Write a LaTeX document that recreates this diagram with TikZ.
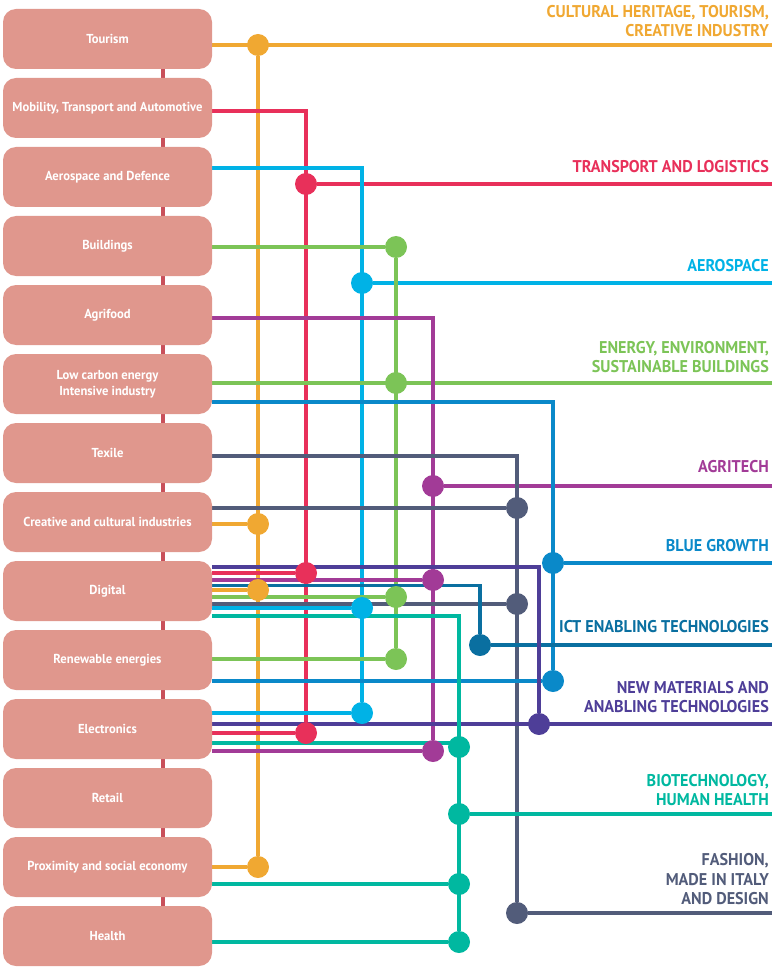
\documentclass[tikz,border=0pt]{standalone}
\usepackage{fontspec}
\setmainfont{PT Sans}
\newfontfamily\lblfont{PT Sans}[FakeStretch=0.95]
\newfontfamily\boxfont{PT Sans}[FakeStretch=0.97]
\definecolor{orng}{HTML}{F0A832}
\definecolor{redc}{HTML}{E8305A}
\definecolor{cyanc}{HTML}{00B2E6}
\definecolor{greenc}{HTML}{7CC457}
\definecolor{purp}{HTML}{A23B97}
\definecolor{bluec}{HTML}{0A89C9}
\definecolor{ictc}{HTML}{0A6FA0}
\definecolor{indc}{HTML}{4E3E98}
\definecolor{tealc}{HTML}{00B8A0}
\definecolor{slatec}{HTML}{525C7A}
\definecolor{boxc}{HTML}{E0978D}
\definecolor{barc}{HTML}{C9505A}
\pgfdeclarelayer{lines}
\pgfsetlayers{lines,main}
\tikzset{
  box/.style={fill=boxc, rounded corners=13pt, minimum width=209pt, minimum height=60pt,
    text=white, font=\boxfont\bfseries\fontsize{13}{16}\selectfont, align=center, inner sep=0pt},
  ln/.style={line width=3.5pt},
  dot/.style={circle, fill, inner sep=0pt, minimum size=22pt},
  lbl/.style={anchor=south east, inner sep=0pt, align=right,
    font=\lblfont\bfseries\fontsize{17}{19.5}\selectfont},
}
\begin{document}
\begin{tikzpicture}[x=1pt,y=-1pt]
\useasboundingbox (0,0) rectangle (772,968);
% boxes
\node[box] (b1) at (107.5,39) {Tourism};
\node[box] (b2) at (107.5,108) {Mobility, Transport and Automotive};
\node[box] (b3) at (107.5,177) {Aerospace and Defence};
\node[box] (b4) at (107.5,246) {Buildings};
\node[box] (b5) at (107.5,315) {Agrifood};
\node[box] (b6) at (107.5,384) {Low carbon energy\\Intensive industry};
\node[box] (b7) at (107.5,453) {Texile};
\node[box] (b8) at (107.5,522) {Creative and cultural industries};
\node[box] (b9) at (107.5,591) {Digital};
\node[box] (b10) at (107.5,660) {Renewable energies};
\node[box] (b11) at (107.5,729) {Electronics};
\node[box] (b12) at (107.5,798) {Retail};
\node[box] (b13) at (107.5,867) {Proximity and social economy};
\node[box] (b14) at (107.5,936) {Health};
% dots
\node[dot, orng] (o1) at (258,45) {};
\node[dot, orng] (o2) at (258,524) {};
\node[dot, orng] (o3) at (258,590) {};
\node[dot, orng] (o4) at (258,867) {};
\node[dot, redc] (r1) at (306,184) {};
\node[dot, redc] (r2) at (306,573) {};
\node[dot, redc] (r3) at (306,733) {};
\node[dot, cyanc] (c1) at (362,283) {};
\node[dot, cyanc] (c2) at (362,608) {};
\node[dot, cyanc] (c3) at (362,713) {};
\node[dot, greenc] (g1) at (396,247) {};
\node[dot, greenc] (g2) at (396,383) {};
\node[dot, greenc] (g3) at (396,597) {};
\node[dot, greenc] (g4) at (396,659) {};
\node[dot, purp] (p1) at (433,486) {};
\node[dot, purp] (p2) at (433,580) {};
\node[dot, purp] (p3) at (433,751) {};
\node[dot, slatec] (s1) at (517,508) {};
\node[dot, slatec] (s2) at (517,604) {};
\node[dot, slatec] (s3) at (517,913) {};
\node[dot, bluec] (u1) at (553,563) {};
\node[dot, bluec] (u2) at (553,681) {};
\node[dot, ictc] (i1) at (480,645) {};
\node[dot, indc] (n1) at (539,724) {};
\node[dot, tealc] (t1) at (459,747) {};
\node[dot, tealc] (t2) at (459,814) {};
\node[dot, tealc] (t3) at (459,884) {};
\node[dot, tealc] (t4) at (459,942) {};
% right ends
\coordinate (e1) at (772,45);
\coordinate (e2) at (772,184);
\coordinate (e3) at (772,283);
\coordinate (e4) at (772,383);
\coordinate (e5) at (772,486);
\coordinate (e6) at (772,563);
\coordinate (e7) at (772,645);
\coordinate (e8) at (772,724);
\coordinate (e9) at (772,814);
\coordinate (e10) at (772,913);
\begin{pgfonlayer}{lines}
\draw[barc, line width=4pt] ([xshift=55.5pt]b1.center) -- ([xshift=55.5pt]b14.center);
% orange
\draw[ln, orng] (b1.east |- o1) -- (e1);
\draw[ln, orng] (o1) -- (o4);
\draw[ln, orng] (b8.east |- o2) -- (o2);
\draw[ln, orng] (b9.east |- o3) -- (o3);
\draw[ln, orng] (b13.east |- o4) -- (o4);
% red
\draw[ln, redc] (b2.east |- 0,111) -- (r1 |- 0,111) -- (r3);
\draw[ln, redc] (r1) -- (e2);
\draw[ln, redc] (b9.east |- r2) -- (r2);
\draw[ln, redc] (b11.east |- r3) -- (r3);
% cyan
\draw[ln, cyanc] (b3.east |- 0,168) -- (c1 |- 0,168) -- (c3);
\draw[ln, cyanc] (c1) -- (e3);
\draw[ln, cyanc] (b9.east |- c2) -- (c2);
\draw[ln, cyanc] (b11.east |- c3) -- (c3);
% green
\draw[ln, greenc] (b4.east |- g1) -- (g1) -- (g4);
\draw[ln, greenc] (b6.east |- g2) -- (e4);
\draw[ln, greenc] (b9.east |- g3) -- (g3);
\draw[ln, greenc] (b10.east |- g4) -- (g4);
% purple
\draw[ln, purp] (b5.east |- 0,318) -- (p1 |- 0,318) -- (p3);
\draw[ln, purp] (p1) -- (e5);
\draw[ln, purp] (b9.east |- p2) -- (p2);
\draw[ln, purp] (b11.east |- p3) -- (p3);
% slate
\draw[ln, slatec] (b7.east |- 0,456) -- (s1 |- 0,456) -- (s3) -- (e10);
\draw[ln, slatec] (b8.east |- s1) -- (s1);
\draw[ln, slatec] (b9.east |- s2) -- (s2);
% blue
\draw[ln, bluec] (b6.east |- 0,402) -- (u1 |- 0,402) -- (u2);
\draw[ln, bluec] (u1) -- (e6);
\draw[ln, bluec] (b10.east |- u2) -- (u2);
% ict
\draw[ln, ictc] (b9.east |- 0,585.5) -- (i1 |- 0,585.5) -- (i1) -- (e7);
% indigo
\draw[ln, indc] (b9.east |- 0,567) -- (n1 |- 0,567) -- (n1);
\draw[ln, indc] (b11.east |- n1) -- (e8);
% teal
\draw[ln, tealc] (b9.east |- 0,616) -- (t1 |- 0,616) -- (t4);
\draw[ln, tealc] (b11.east |- 0,743) -- (t1 |- 0,743);
\draw[ln, tealc] (t2) -- (e9);
\draw[ln, tealc] (b13.east |- t3) -- (t3);
\draw[ln, tealc] (b14.east |- t4) -- (t4);
\end{pgfonlayer}
% labels
\node[lbl, text=orng] (l1) at (769,37) {CULTURAL HERITAGE, TOURISM,\\CREATIVE INDUSTRY};
\node[lbl, text=redc] (l2) at (769,173) {TRANSPORT AND LOGISTICS};
\node[lbl, text=cyanc] (l3) at (769,272) {AEROSPACE};
\node[lbl, text=greenc] (l4) at (769,373) {ENERGY, ENVIRONMENT,\\SUSTAINABLE BUILDINGS};
\node[lbl, text=purp] (l5) at (769,473) {AGRITECH};
\node[lbl, text=bluec] (l6) at (769,552) {BLUE GROWTH};
\node[lbl, text=ictc] (l7) at (769,633) {ICT ENABLING TECHNOLOGIES};
\node[lbl, text=indc] (l8) at (769,713) {NEW MATERIALS AND\\ANABLING TECHNOLOGIES};
\node[lbl, text=tealc] (l9) at (769,806) {BIOTECHNOLOGY,\\HUMAN HEALTH};
\node[lbl, text=slatec] (l10) at (769,905) {FASHION,\\MADE IN ITALY\\AND DESIGN};
\end{tikzpicture}
\end{document}
